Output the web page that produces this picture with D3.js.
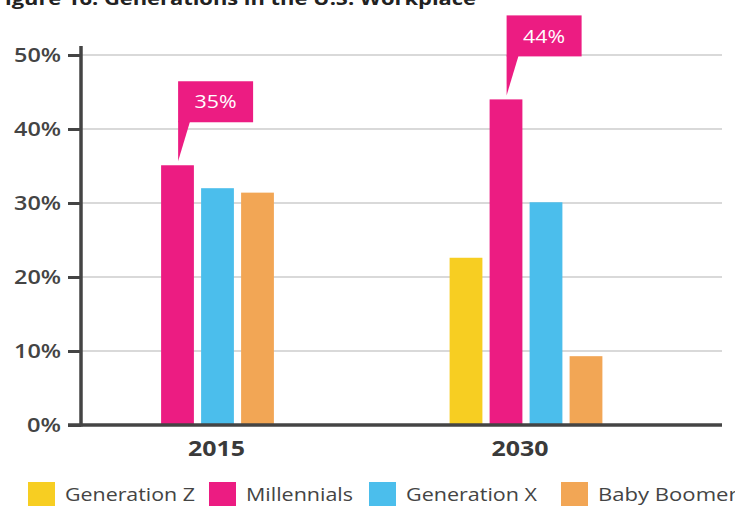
<!DOCTYPE html>
<html><head><meta charset="utf-8">
<script src="https://cdn.jsdelivr.net/npm/d3@7/dist/d3.min.js"></script>
<style>body{margin:0;background:#fff}svg{display:block}text{font-family:"Open Sans",sans-serif}</style>
</head><body><svg id="c" width="735" height="506"></svg>
<script>
const years = ["2015", "2030"];
const seriesNames = ["Generation Z", "Millennials", "Generation X", "Baby Boomers"];
const colors = ["#F7CE22", "#EC1C82", "#4BBEEC", "#F2A655"];
const values2015 = [null, 35.1, 32.0, 31.4];
const values2030 = [22.6, 44.0, 30.1, 9.3];
const calloutLabels = ["35%", "44%"];
const yTicks = [0, 10, 20, 30, 40, 50];
const title = "Figure 16: Generations in the U.S. Workplace";

const allValues = [values2015, values2030];
const svg = d3.select("#c");
const axisColor = "#444";

const y = d3.scaleLinear().domain([0, 50]).range([425, 55]);
const xAxisLeft = 81, xAxisRight = 722;
const x0 = d3.scalePoint().domain(years).range([217.5, 526]);
const slot = 40;

// gridlines
svg.append("g").selectAll("line").data(yTicks.filter(d => d > 0)).join("line")
  .attr("x1", xAxisLeft).attr("x2", xAxisRight)
  .attr("y1", d => y(d)).attr("y2", d => y(d))
  .attr("stroke", "#cccccc").attr("stroke-width", 1.5);

// bars
years.forEach((yr, gi) => {
  const vals = allValues[gi];
  const present = seriesNames.filter((s, i) => vals[i] != null);
  const c = x0(yr);
  const x1 = d3.scaleBand().domain(present)
    .range([c - present.length * slot / 2, c + present.length * slot / 2])
    .paddingInner(0.18).paddingOuter(0.09);
  const data = seriesNames.map((s, i) => ({s, v: vals[i], color: colors[i]})).filter(d => d.v != null);
  svg.append("g").selectAll("rect").data(data).join("rect")
    .attr("x", d => x1(d.s)).attr("width", x1.bandwidth())
    .attr("y", d => y(d.v)).attr("height", d => y(0) - y(d.v))
    .attr("fill", d => d.color);

  // callout on Millennials
  const mv = vals[1];
  const bx = x1("Millennials") + 17;
  const tipY = y(mv) - 4;
  const boxBottom = y(mv) - 43;
  const g = svg.append("g");
  g.append("rect").attr("x", bx).attr("y", boxBottom - 41).attr("width", 75).attr("height", 41).attr("fill", colors[1]);
  g.append("path").attr("d", `M${bx},${boxBottom - 1}L${bx + 12},${boxBottom - 1}L${bx},${tipY}Z`).attr("fill", colors[1]);
  g.append("text").attr("x", bx + 37.5).attr("y", boxBottom - 20.5).attr("dy", "0.35em")
    .attr("text-anchor", "middle").attr("fill", "#fff").attr("font-size", 19)
    .attr("textLength", 42).attr("lengthAdjust", "spacingAndGlyphs").text(calloutLabels[gi]);
});

// y axis
const yAxis = d3.axisLeft(y).tickValues(yTicks).tickFormat(d => d + "%").tickSize(13).tickPadding(7);
const ya = svg.append("g").attr("transform", `translate(${xAxisLeft},0)`).call(yAxis);
ya.select(".domain").remove();
ya.selectAll(".tick line").attr("stroke", axisColor).attr("stroke-width", 3);
ya.selectAll(".tick text").attr("fill", axisColor).attr("font-size", 19).attr("font-family", "Open Sans, sans-serif").attr("font-weight", 600)
  .attr("textLength", d => d === 0 ? 34 : 47).attr("lengthAdjust", "spacingAndGlyphs");
svg.append("line").attr("x1", xAxisLeft).attr("x2", xAxisLeft).attr("y1", 46).attr("y2", 426.5)
  .attr("stroke", axisColor).attr("stroke-width", 3.5);
svg.append("line").attr("x1", xAxisLeft - 13).attr("x2", xAxisRight).attr("y1", y(0)).attr("y2", y(0))
  .attr("stroke", axisColor).attr("stroke-width", 3.5);

// x labels
svg.append("g").selectAll("text").data(years).join("text")
  .attr("x", (d, i) => x0(d) - (i === 1 ? 6 : 1)).attr("y", 448).attr("dy", "0.35em")
  .attr("text-anchor", "middle").attr("font-size", 22).attr("font-weight", 700).attr("fill", "#3a3a3a")
  .attr("textLength", 57).attr("lengthAdjust", "spacingAndGlyphs")
  .text(d => d);

// title
svg.append("text").attr("x", -7).attr("y", 5)
  .attr("font-size", 18).attr("font-weight", 700).attr("fill", "#222")
  .attr("textLength", 483).attr("lengthAdjust", "spacingAndGlyphs").text(title);

// legend
const legendX = [28, 209, 369, 561];
const legendW = [130, 107, 131, 150];
const lg = svg.append("g");
seriesNames.forEach((s, i) => {
  lg.append("rect").attr("x", legendX[i]).attr("y", 482).attr("width", 27).attr("height", 26).attr("fill", colors[i]);
  lg.append("text").attr("x", legendX[i] + 37).attr("y", 495).attr("dy", "0.35em")
    .attr("font-size", 18).attr("fill", "#444")
    .attr("textLength", legendW[i]).attr("lengthAdjust", "spacingAndGlyphs").text(s);
});
</script></body></html>
